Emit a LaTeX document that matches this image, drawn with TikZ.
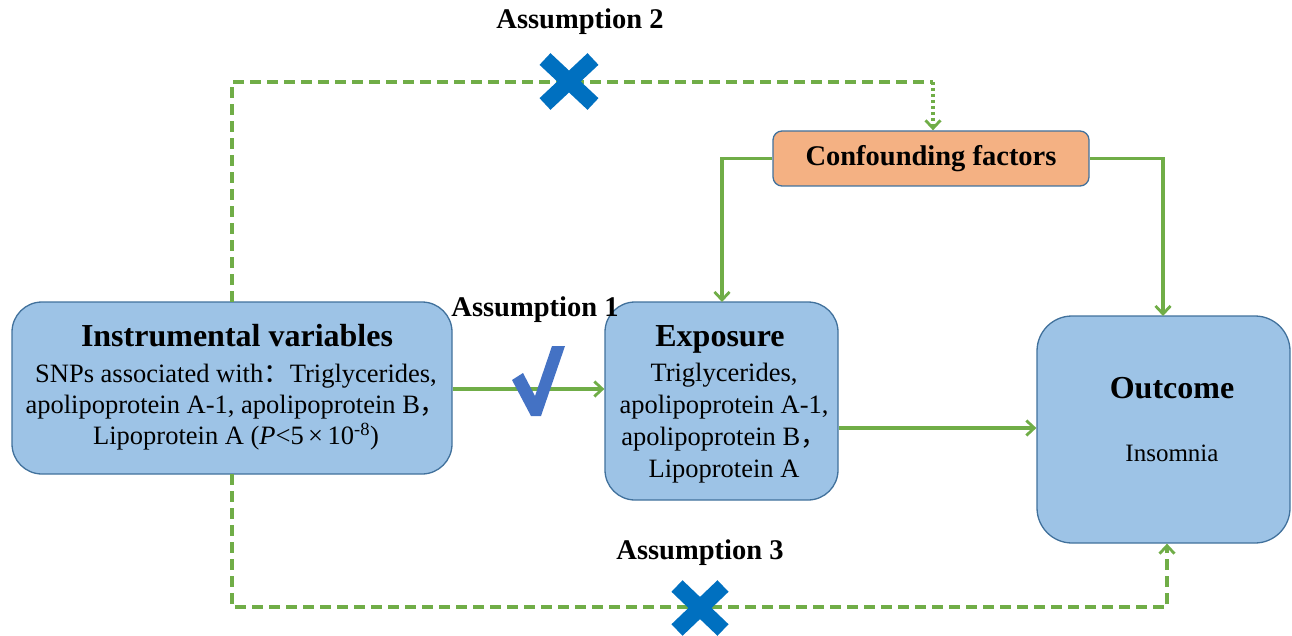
\documentclass[tikz,border=0pt]{standalone}
\usepackage{fontspec}
\setmainfont{Liberation Serif}
\newfontfamily\cjk{Noto Sans CJK SC}
\usetikzlibrary{arrows.meta}
\definecolor{boxfill}{HTML}{9DC3E6}
\definecolor{boxline}{HTML}{41719C}
\definecolor{orfill}{HTML}{F4B183}
\definecolor{grn}{HTML}{70AD47}
\definecolor{xblue}{HTML}{0070C0}
\definecolor{ckblue}{HTML}{4472C4}
\tikzset{
  bluebox/.style={draw=boxline, fill=boxfill, line width=1.3pt, rounded corners=30pt, align=center, inner sep=0pt},
  conn/.style={draw=grn, line width=3.2pt, -{Straight Barb[length=8pt,width=15pt,line width=2.8pt]}},
  dconn/.style={conn, dash pattern=on 11pt off 6pt},
  lbl/.style={font=\fontsize{28.5}{32}\selectfont\bfseries},
  ttl/.style={font=\fontsize{32}{36}\selectfont\bfseries},
  xmark/.style={draw=xblue, line width=16pt}
}
\begin{document}
\begin{tikzpicture}[x=1pt,y=-1pt]
\useasboundingbox (0,0) rectangle (1292,636);
% boxes
\node[bluebox, minimum width=440pt, minimum height=172pt] (iv) at (232,388) {};
\node[ttl] (ivt) at (237,336) {Instrumental variables};
\node[align=center, font=\fontsize{26.5}{31}\selectfont] (ivb) at (236,407) {SNPs associated with{\cjk：}Triglycerides,\\apolipoprotein A-1, apolipoprotein B{\cjk，}\\Lipoprotein A (\textit{P}<5\,×\,10\textsuperscript{-8})};

\node[bluebox, minimum width=233pt, minimum height=198pt] (exp) at (721.5,401) {};
\node[ttl] (expt) at (720,339) {Exposure};
\node[align=center, font=\fontsize{26.5}{32}\selectfont] (expb) at (724,423) {Triglycerides,\\apolipoprotein A-1,\\apolipoprotein B{\cjk，}\\Lipoprotein A};

\node[bluebox, rounded corners=35pt, minimum width=253pt, minimum height=227pt] (out) at (1163.5,429.5) {};
\node[ttl] (outt) at (1172,388) {Outcome};
\node[font=\fontsize{25}{30}\selectfont] (outb) at (1172,453) {Insomnia};

\node[draw=boxline, fill=orfill, line width=1.3pt, rounded corners=9pt, minimum width=316pt, minimum height=55pt, lbl] (conf) at (931,158.5) {Confounding factors};

% coordinates
\coordinate (ivtop) at (232,302);
\coordinate (ivbot) at (232,474);
\coordinate (top1) at (232,82);
\coordinate (top2) at (933,82);
\coordinate (bot1) at (232,607);
\coordinate (bot2) at (1167,607);

% solid connectors
\draw[conn] (iv.east |- 0,389) -- (exp.west |- 0,389);
\draw[conn] (exp.east |- 0,428) -- (out.west |- 0,428);
\draw[conn] (conf.west) -| (722,302);
\draw[conn] (conf.east) -| (1163,316);

% dashed connectors
\draw[grn, line width=3.2pt, dash pattern=on 11pt off 6pt] (ivtop) -- (top1) -- (top2);
\draw[conn, dash pattern=on 3pt off 3pt] (top2) -- (conf.north -| top2);
\draw[dconn] (ivbot) -- (bot1) -- (bot2) -- (out.south -| bot2);

% marks
\draw[xmark] (545,59) -- (593,104) (545,104) -- (593,59);
\draw[xmark] (677,586) -- (723,630) (677,630) -- (723,586);
\fill[ckblue] (512,380) -- (523,373) -- (535,396) -- (552,346) -- (565,346) -- (541,416) -- (531,416) -- cycle;

% labels
\node[lbl] (a1) at (535,310) {Assumption 1};
\node[lbl] (a2) at (580,22) {Assumption 2};
\node[lbl] (a3) at (700,553) {Assumption 3};
\end{tikzpicture}
\end{document}
